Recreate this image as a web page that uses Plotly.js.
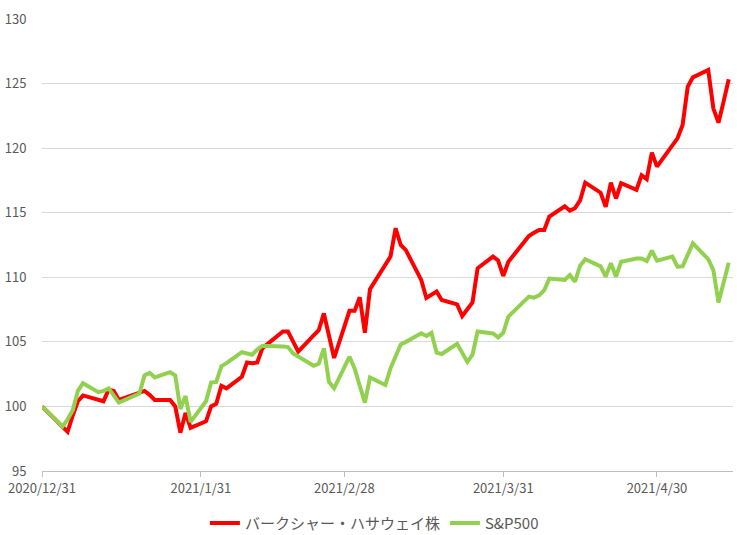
<!DOCTYPE html>
<html>
<head>
<meta charset="utf-8">
<script src="https://cdn.plot.ly/plotly-3.0.1.min.js"></script>
<style>html,body{margin:0;padding:0;background:#fff;}#chart{width:737px;height:535px;}</style>
</head>
<body>
<div id="chart"></div>
<script>
const dates = [
  '2020-12-31',
  '2021-01-04','2021-01-05','2021-01-06','2021-01-07','2021-01-08',
  '2021-01-11','2021-01-12','2021-01-13','2021-01-14','2021-01-15',
  '2021-01-19','2021-01-20','2021-01-21','2021-01-22',
  '2021-01-25','2021-01-26','2021-01-27','2021-01-28','2021-01-29',
  '2021-02-01','2021-02-02','2021-02-03','2021-02-04','2021-02-05',
  '2021-02-08','2021-02-09','2021-02-10','2021-02-11','2021-02-12',
  '2021-02-16','2021-02-17','2021-02-18','2021-02-19',
  '2021-02-22','2021-02-23','2021-02-24','2021-02-25','2021-02-26',
  '2021-03-01','2021-03-02','2021-03-03','2021-03-04','2021-03-05',
  '2021-03-08','2021-03-09','2021-03-10','2021-03-11','2021-03-12',
  '2021-03-15','2021-03-16','2021-03-17','2021-03-18','2021-03-19',
  '2021-03-22','2021-03-23','2021-03-24','2021-03-25','2021-03-26',
  '2021-03-29','2021-03-30','2021-03-31','2021-04-01',
  '2021-04-05','2021-04-06','2021-04-07','2021-04-08','2021-04-09',
  '2021-04-12','2021-04-13','2021-04-14','2021-04-15','2021-04-16',
  '2021-04-19','2021-04-20','2021-04-21','2021-04-22','2021-04-23',
  '2021-04-26','2021-04-27','2021-04-28','2021-04-29','2021-04-30',
  '2021-05-03','2021-05-04','2021-05-05','2021-05-06','2021-05-07',
  '2021-05-10','2021-05-11','2021-05-12','2021-05-13','2021-05-14'
];

const berkshire = [
  100,
  98.4, 98.04, 99.3, 100.4, 100.85,
  100.5, 100.4, 101.3, 101.2, 100.5,
  101.0, 101.2, 100.9, 100.5,
  100.5, 100.0, 97.97, 99.5, 98.35,
  98.85, 100.0, 100.2, 101.6, 101.4,
  102.3, 103.4, 103.35, 103.4, 104.5,
  105.8, 105.8, 105.1, 104.25,
  105.5, 105.9, 107.2, 105.4, 103.75,
  107.4, 107.4, 108.45, 105.7, 109.07,
  111.0, 111.6, 113.8, 112.5, 112.1,
  109.8, 108.4, 108.65, 108.9, 108.24,
  107.9, 107.0, 107.55, 108.05, 110.7,
  111.6, 111.3, 110.1, 111.2,
  113.2, 113.45, 113.66, 113.66, 114.7,
  115.5, 115.16, 115.35, 115.95, 117.33,
  116.55, 115.45, 117.33, 116.1, 117.28,
  116.78, 117.9, 117.6, 119.65, 118.57,
  120.3, 120.76, 121.8, 124.76, 125.48,
  126.05, 123.08, 121.97, 123.6, 125.33
];

const sp500 = [
  100,
  98.45, 99.0, 99.7, 101.2, 101.8,
  101.1, 101.2, 101.4, 100.9, 100.3,
  101.0, 102.4, 102.6, 102.25,
  102.65, 102.4, 99.8, 100.8, 98.8,
  100.4, 101.85, 101.9, 103.1, 103.35,
  104.2, 104.1, 104.0, 104.4, 104.7,
  104.65, 104.6, 104.1, 103.85,
  103.15, 103.3, 104.5, 101.9, 101.4,
  103.85, 102.95, 101.6, 100.3, 102.25,
  101.66, 102.95, 103.85, 104.8, 105.0,
  105.66, 105.45, 105.7, 104.16, 104.06,
  104.85, 104.1, 103.45, 104.0, 105.8,
  105.65, 105.35, 105.7, 106.95,
  108.5, 108.42, 108.6, 109.0, 109.9,
  109.8, 110.18, 109.66, 110.9, 111.4,
  110.85, 110.05, 111.08, 110.05, 111.2,
  111.45, 111.45, 111.25, 112.06, 111.28,
  111.6, 110.82, 110.85, 111.7, 112.63,
  111.4, 110.56, 108.05, 109.6, 111.13
];

const seriesNames = ['バークシャー・ハサウェイ株', 'S&P500'];
const tickDates = ['2020-12-31', '2021-01-31', '2021-02-28', '2021-03-31', '2021-04-30'];
const tickLabels = ['2020/12/31', '2021/1/31', '2021/2/28', '2021/3/31', '2021/4/30'];

const font = 'Noto Sans CJK JP, Noto Sans, sans-serif';

const traces = [
  {x: dates, y: berkshire, name: seriesNames[0], type: 'scatter', mode: 'lines',
   line: {color: '#FF0000', width: 4, shape: 'linear'}},
  {x: dates, y: sp500, name: seriesNames[1], type: 'scatter', mode: 'lines',
   line: {color: '#92D050', width: 4, shape: 'linear'}}
];

const layout = {
  width: 737, height: 535,
  margin: {l: 42, r: 4, t: 19, b: 64},
  paper_bgcolor: '#ffffff', plot_bgcolor: '#ffffff',
  font: {family: font, size: 13, color: '#595959'},
  showlegend: true,
  legend: {orientation: 'h', x: 0.508, xanchor: 'center', xref: 'container',
           y: 0.022, yanchor: 'middle', yref: 'container',
           font: {family: font, size: 15, color: '#595959'}, itemwidth: 30, tracegroupgap: 0},
  xaxis: {
    type: 'date',
    range: ['2020-12-31', '2021-05-14 20:00'],
    tickvals: tickDates, ticktext: tickLabels,
    showgrid: false, zeroline: false,
    showline: true, linecolor: '#BFBFBF', linewidth: 1,
    ticks: 'outside', ticklen: 5, tickcolor: '#BFBFBF',
    tickfont: {family: font, size: 13, color: '#595959'}
  },
  yaxis: {
    range: [95, 130], dtick: 5, tick0: 95,
    showgrid: true, gridcolor: '#D9D9D9', gridwidth: 1,
    zeroline: false, showline: false,
    ticks: 'outside', ticklen: 12, tickcolor: 'rgba(0,0,0,0)',
    tickfont: {family: font, size: 13, color: '#595959'}
  }
};

Plotly.newPlot('chart', traces, layout, {displayModeBar: false, staticPlot: true});
</script>
</body>
</html>
